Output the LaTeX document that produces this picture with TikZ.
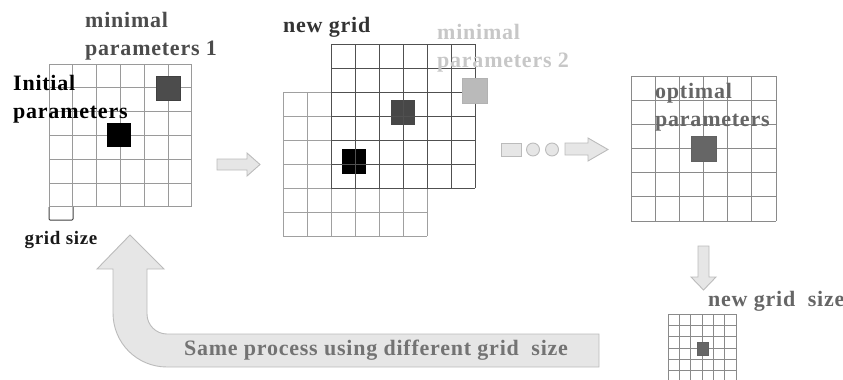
\documentclass[tikz,border=0pt]{standalone}
\usepackage{fontspec}
\setmainfont{Liberation Serif}[LetterSpace=3.5]
\definecolor{afill}{HTML}{E6E6E6}
\definecolor{adraw}{HTML}{BBBBBB}
\definecolor{gOne}{HTML}{9A9A9A}
\definecolor{gDark}{HTML}{505050}
\definecolor{gLight}{HTML}{A0A0A0}
\definecolor{gOpt}{HTML}{8A8A8A}
\newcommand\mygrid[6]{%
  \foreach \i in {0,...,#6}{%
    \draw[#4,line width=#5] ({#1+\i*#3},#2) -- ({#1+\i*#3},{#2+#6*#3});
    \draw[#4,line width=#5] (#1,{#2+\i*#3}) -- ({#1+#6*#3},{#2+\i*#3});
  }}
\begin{document}
\begin{tikzpicture}[x=1pt,y=-1pt,
  lbl/.style={font=\fontsize{22}{28}\selectfont\bfseries, inner sep=0pt, align=left},
  fat/.style={fill=afill, draw=adraw, line width=0.9pt},
  sq/.style={line width=0.6pt}]
\useasboundingbox (0,0) rectangle (843,380);
% ---------- grid 1
\mygrid{49}{64}{23.83}{gOne}{1pt}{6}
\fill[sq,fill=black!70,draw=black!75] (156,76) rectangle (180,100);
\fill[sq,fill=black] (107,123) rectangle (131,147);
\draw[black!75,line width=1pt,rounded corners=1pt] (49,207) -- (49,220) -- (73,220) -- (73,207);
\node[lbl,anchor=west,text=black!70] (min1) at (85,36) {minimal\\parameters 1};
\node[lbl,anchor=west,text=black] (init) at (13,99) {Initial\\parameters};
\node[lbl,font=\fontsize{19}{24}\selectfont\bfseries,text=black!90] (gs) at (61,240) {grid size};
% ---------- arrow 1
\draw[fat] (217,159) -- (247,159) -- (247,153) -- (260,164.5) -- (247,176) -- (247,170) -- (217,170) -- cycle;
% ---------- grid 2
\mygrid{283}{92}{24}{gLight}{1pt}{6}
\fill[black] (342,149) rectangle (366,174);
\fill[black!72] (391,100) rectangle (415,125);
\mygrid{331}{44}{24}{gDark}{1pt}{6}
\fill[sq,fill=black!27,draw=black!30] (462,78) rectangle (487,103);
\node[lbl,anchor=west,text=black!80] (ng) at (283,27) {new grid};
\node[lbl,anchor=west,text=black!22] (min2) at (437,48) {minimal\\parameters 2};
% ---------- dots and arrow 2
\draw[fat] (501,143) rectangle (521,156);
\draw[fat] (533,149.5) circle (6.5);
\draw[fat] (552,149.5) circle (6.5);
\draw[fat] (565,143) -- (588,143) -- (588,138) -- (608,149.5) -- (588,161) -- (588,155) -- (565,155) -- cycle;
% ---------- optimal grid
\mygrid{631}{76}{24.17}{gOpt}{1pt}{6}
\fill[sq,fill=black!60,draw=black!62] (691,136) rectangle (716,161);
\node[lbl,anchor=west,text=black!60] (opt) at (655,107) {optimal\\parameters};
% ---------- down arrow
\draw[fat] (698,246) -- (709,246) -- (709,277) -- (716,277) -- (703.5,290) -- (691,277) -- (698,277) -- cycle;
\node[lbl,anchor=west,text=black!60] (ngs) at (708,301) {new grid\ \ size};
% ---------- small grid
\begin{scope}
\clip (0,0) rectangle (843,380);
\mygrid{668}{314}{11.33}{gOpt}{0.9pt}{6}
\fill[sq,fill=black!60,draw=black!62] (697,342) rectangle (708,355);
\end{scope}
% ---------- U-turn arrow
\draw[fat] (130,235) -- (164,269) -- (147,269) -- (147,314)
  .. controls (147,325) and (156,334) .. (167,334)
  -- (599,334) -- (599,367) -- (167,367)
  .. controls (137,367) and (113,343) .. (113,313)
  -- (113,269) -- (97,269) -- cycle;
\node[lbl,text=black!55] (same) at (376,350) {Same process using different grid\ \ size};
\end{tikzpicture}
\end{document}
